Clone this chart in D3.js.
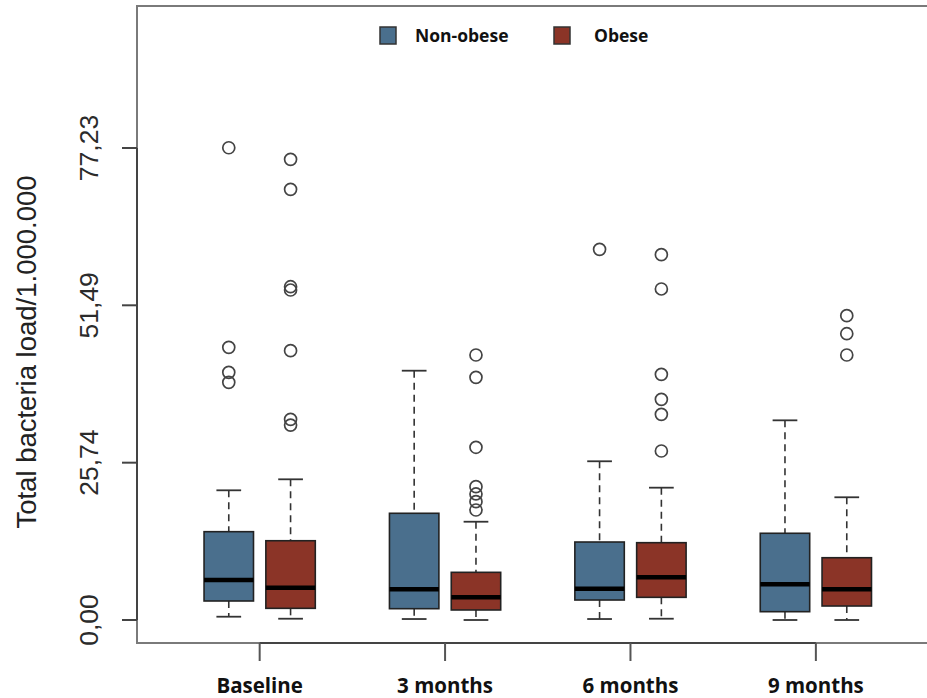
<!DOCTYPE html>
<html>
<head>
<meta charset="utf-8">
<script src="https://cdn.jsdelivr.net/npm/d3@7"></script>
<style>
  body { margin: 0; background: #fff; }
  svg { display: block; }
</style>
</head>
<body>
<svg id="chart" width="927" height="698"></svg>
<script>
// time points and groups
var timepoints = ["Baseline", "3 months", "6 months", "9 months"];
var groups = ["Non-obese", "Obese"];
var colors = ["#4a6f8d", "#8b3427"];
var yTicks = [0, 25.74, 51.49, 77.23];

// box stats, one entry per box, in order:
// Baseline NO, Baseline O, 3m NO, 3m O, 6m NO, 6m O, 9m NO, 9m O
var lowWhisker = [0.54, 0.21, 0.16, 0.0, 0.16, 0.21, 0.0, 0.0];
var q1 = [3.11, 1.91, 1.85, 1.64, 3.27, 3.71, 1.36, 2.29];
var medians = [6.54, 5.28, 5.02, 3.71, 5.12, 6.99, 5.84, 5.02];
var q3 = [14.45, 12.97, 17.46, 7.80, 12.76, 12.65, 14.19, 10.19];
var highWhisker = [21.22, 23.02, 40.79, 16.08, 25.97, 21.65, 32.67, 20.08];
var outliers = [
  [77.27, 44.62, 40.53, 38.89],
  [75.38, 70.47, 54.53, 53.99, 44.06, 32.84, 31.90],
  [],
  [43.36, 39.71, 28.26, 21.81, 20.62, 19.36, 18.0],
  [60.65],
  [59.77, 54.16, 40.2, 36.11, 33.65, 27.65],
  [],
  [49.79, 46.84, 43.36]
];

var svg = d3.select("#chart");
var plotLeft = 137, plotTop = 6, plotBottom = 643, plotRight = 1000;

// box positions like R's at = c(1,2,4,5,7,8,10,11)
var positions = [1, 2, 4, 5, 7, 8, 10, 11];
var x = d3.scaleLinear().domain([-0.485, 13.485]).range([plotLeft, plotLeft + 13.97 * 61.8]);
var y = d3.scaleLinear().domain([-3.763, 100.46]).range([plotBottom, plotTop]);
var boxW = 0.8 * 61.8, capW = 0.4 * 61.8;

var boxes = positions.map(function(p, i) {
  return { pos: p, g: i % 2, lo: lowWhisker[i], q1: q1[i], med: medians[i],
           q3: q3[i], hi: highWhisker[i], out: outliers[i] };
});

// frame (right side runs off the page, as in the original)
svg.append("path")
  .attr("d", "M" + plotRight + "," + plotTop + "H" + plotLeft + "V" + plotBottom + "H" + plotRight)
  .attr("fill", "none").attr("stroke", "#7a7a7a").attr("stroke-width", 2);

// y axis
var yAxis = svg.append("g").attr("transform", "translate(" + plotLeft + ",0)");
yAxis.append("line")
  .attr("x1", 0).attr("x2", 0)
  .attr("y1", y(yTicks[0])).attr("y2", y(yTicks[yTicks.length - 1]))
  .attr("stroke", "#444").attr("stroke-width", 2);
yAxis.selectAll(".yt").data(yTicks).enter().append("line")
  .attr("x1", -15).attr("x2", 0)
  .attr("y1", function(d) { return y(d); }).attr("y2", function(d) { return y(d); })
  .attr("stroke", "#444").attr("stroke-width", 2);
yAxis.selectAll(".yl").data(yTicks).enter().append("text")
  .attr("transform", function(d) { return "translate(-39," + y(d) + ") rotate(-90)"; })
  .attr("text-anchor", "middle")
  .style("font-family", "'Liberation Sans', Arial, sans-serif")
  .style("font-size", "26.5px")
  .attr("fill", "#2b2b2b")
  .text(function(d) { return d.toFixed(2).replace(".", ","); });

svg.append("text")
  .attr("transform", "translate(36,352) rotate(-90)")
  .attr("text-anchor", "middle")
  .style("font-family", "'Liberation Sans', Arial, sans-serif")
  .style("font-size", "27.5px")
  .attr("fill", "#222")
  .text("Total bacteria load/1.000.000");

// x axis
var centers = [1.5, 4.5, 7.5, 10.5];
var xAxis = svg.append("g").attr("transform", "translate(0," + plotBottom + ")");
xAxis.append("line")
  .attr("x1", x(centers[0])).attr("x2", x(centers[3]))
  .attr("stroke", "#444").attr("stroke-width", 2);
xAxis.selectAll(".xt").data(centers).enter().append("line")
  .attr("x1", function(d) { return x(d); }).attr("x2", function(d) { return x(d); })
  .attr("y1", 0).attr("y2", 18)
  .attr("stroke", "#555").attr("stroke-width", 2);
xAxis.selectAll(".xl").data(timepoints).enter().append("text")
  .attr("x", function(d, i) { return x(centers[i]); })
  .attr("y", 50)
  .attr("text-anchor", "middle")
  .style("font-family", "'Open Sans', sans-serif")
  .style("font-size", "20.5px")
  .style("font-weight", "bold")
  .attr("fill", "#111")
  .text(function(d) { return d; });

// boxes
var b = svg.selectAll(".box").data(boxes).enter().append("g").attr("class", "box");

b.append("line")
  .attr("x1", function(d) { return x(d.pos); }).attr("x2", function(d) { return x(d.pos); })
  .attr("y1", function(d) { return y(d.hi); }).attr("y2", function(d) { return y(d.q3); })
  .attr("stroke", "#333").attr("stroke-width", 1.6).attr("stroke-dasharray", "7,5");
b.append("line")
  .attr("x1", function(d) { return x(d.pos); }).attr("x2", function(d) { return x(d.pos); })
  .attr("y1", function(d) { return y(d.q1); }).attr("y2", function(d) { return y(d.lo); })
  .attr("stroke", "#333").attr("stroke-width", 1.6).attr("stroke-dasharray", "7,5");
b.selectAll(".cap").data(function(d) { return [d.hi, d.lo].map(function(v) { return { p: d.pos, v: v }; }); })
  .enter().append("line")
  .attr("x1", function(d) { return x(d.p) - capW / 2; }).attr("x2", function(d) { return x(d.p) + capW / 2; })
  .attr("y1", function(d) { return y(d.v); }).attr("y2", function(d) { return y(d.v); })
  .attr("stroke", "#333").attr("stroke-width", 1.8);
b.append("rect")
  .attr("x", function(d) { return x(d.pos) - boxW / 2; })
  .attr("y", function(d) { return y(d.q3); })
  .attr("width", boxW)
  .attr("height", function(d) { return y(d.q1) - y(d.q3); })
  .attr("fill", function(d) { return colors[d.g]; })
  .attr("stroke", "#222").attr("stroke-width", 1.6);
b.append("line")
  .attr("x1", function(d) { return x(d.pos) - boxW / 2; }).attr("x2", function(d) { return x(d.pos) + boxW / 2; })
  .attr("y1", function(d) { return y(d.med); }).attr("y2", function(d) { return y(d.med); })
  .attr("stroke", "#000").attr("stroke-width", 4.5);
b.selectAll(".out").data(function(d) { return d.out.map(function(v) { return { p: d.pos, v: v }; }); })
  .enter().append("circle")
  .attr("cx", function(d) { return x(d.p); })
  .attr("cy", function(d) { return y(d.v); })
  .attr("r", 6)
  .attr("fill", "none").attr("stroke", "#444").attr("stroke-width", 1.7);

// legend
var legend = svg.append("g");
var legX = [380, 554], legTextX = [415, 594];
groups.forEach(function(gname, i) {
  legend.append("rect")
    .attr("x", legX[i]).attr("y", 27).attr("width", 16).attr("height", 17)
    .attr("fill", colors[i]).attr("stroke", "#333").attr("stroke-width", 1.5);
  legend.append("text")
    .attr("x", legTextX[i]).attr("y", 41.5)
    .style("font-family", "'Open Sans', sans-serif")
    .style("font-size", "17.5px")
    .style("font-weight", "bold")
    .attr("fill", "#111")
    .text(gname);
});
</script>
</body>
</html>
